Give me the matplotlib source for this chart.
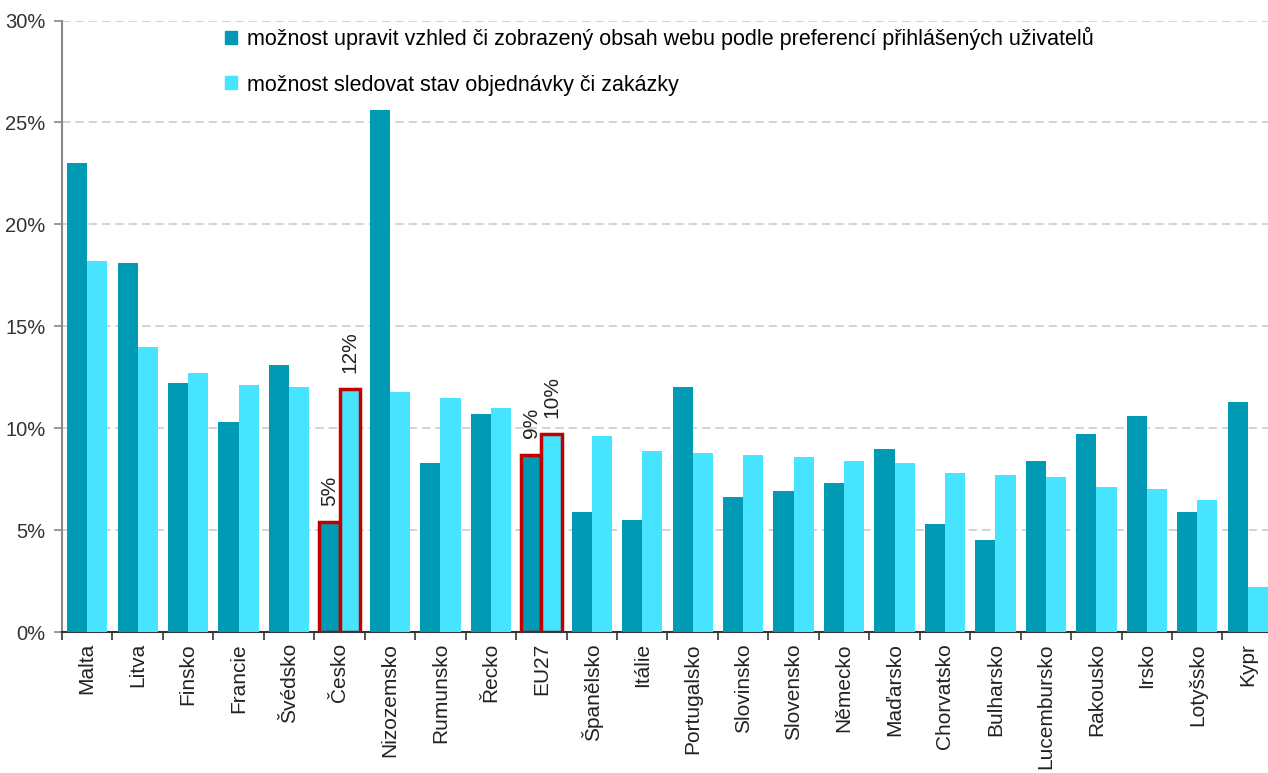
import numpy as np
import matplotlib.pyplot as plt
from matplotlib.patches import Patch

# --- Data ---
countries = ["Malta", "Litva", "Finsko", "Francie", "Švédsko", "Česko", "Nizozemsko",
             "Rumunsko", "Řecko", "EU27", "Španělsko", "Itálie", "Portugalsko",
             "Slovinsko", "Slovensko", "Německo", "Maďarsko", "Chorvatsko",
             "Bulharsko", "Lucembursko", "Rakousko", "Irsko", "Lotyšsko", "Kypr"]
upravit = [23.0, 18.1, 12.2, 10.3, 13.1, 5.4, 25.6, 8.3, 10.7, 8.7, 5.9, 5.5, 12.0,
           6.6, 6.9, 7.3, 9.0, 5.3, 4.5, 8.4, 9.7, 10.6, 5.9, 11.3]
sledovat = [18.2, 14.0, 12.7, 12.1, 12.0, 11.9, 11.8, 11.5, 11.0, 9.7, 9.6, 8.9, 8.8,
            8.7, 8.6, 8.4, 8.3, 7.8, 7.7, 7.6, 7.1, 7.0, 6.5, 2.2]
highlight = ["Česko", "EU27"]
labels = ["možnost upravit vzhled či zobrazený obsah webu podle preferencí přihlášených uživatelů",
          "možnost sledovat stav objednávky či zakázky"]

DARK = "#009AB4"
LIGHT = "#46E4FF"
RED = "#C00000"

plt.rcParams['font.family'] = ['Liberation Sans', 'DejaVu Sans']

fig = plt.figure(figsize=(12.68, 7.73), dpi=100)
ax = fig.add_axes([0.0489, 0.1824, 0.955, 0.791])

x = np.arange(len(countries))
w = 0.4
b1 = ax.bar(x - w / 2, upravit, w, color=DARK, zorder=3)
b2 = ax.bar(x + w / 2, sledovat, w, color=LIGHT, zorder=3)

# zvýraznění Česka a EU27
for i, c in enumerate(countries):
    if c in highlight:
        for bar, val in ((b1[i], upravit[i]), (b2[i], sledovat[i])):
            bar.set_edgecolor(RED)
            bar.set_linewidth(2.5)
            bar.set_zorder(4)
            ax.text(bar.get_x() + bar.get_width() / 2, val + 0.8, f"{val:.0f}%",
                    rotation=90, ha="center", va="bottom", fontsize=15, color="#222222")

ax.set_xlim(-0.5, len(countries) - 0.5)
ax.set_ylim(0, 30)
ax.set_yticks(np.arange(0, 31, 5))
ax.set_yticklabels([f"{v}%" for v in range(0, 31, 5)], fontsize=14.5, color="#333333")
ax.yaxis.grid(True, linestyle=(0, (5, 3)), color="#CCCCCC", linewidth=1.2, zorder=0)

ax.set_xticks(x)
ax.set_xticklabels(countries, rotation=90, fontsize=15, color="#222222")
ax.tick_params(axis="x", which="major", length=0, pad=8)
ax.set_xticks(np.arange(-0.5, len(countries), 1), minor=True)
ax.tick_params(axis="x", which="minor", length=6, width=1.2, color="#333333")
ax.tick_params(axis="y", length=6, width=1.2, color="#888888", pad=6)

for s in ("top", "right"):
    ax.spines[s].set_visible(False)
ax.spines["left"].set_color("#888888")
ax.spines["left"].set_linewidth(1.5)
ax.spines["bottom"].set_color("#333333")
ax.spines["bottom"].set_linewidth(1.5)

handles = [Patch(color=DARK), Patch(color=LIGHT)]
ax.legend(handles, labels, loc="upper left", bbox_to_anchor=(0.1347, 0.99), frameon=False,
          fontsize=15.5, handlelength=0.55, handleheight=0.55, labelspacing=1.15,
          handletextpad=0.45, borderpad=0, borderaxespad=0)

fig.savefig("out.png", dpi=100)
